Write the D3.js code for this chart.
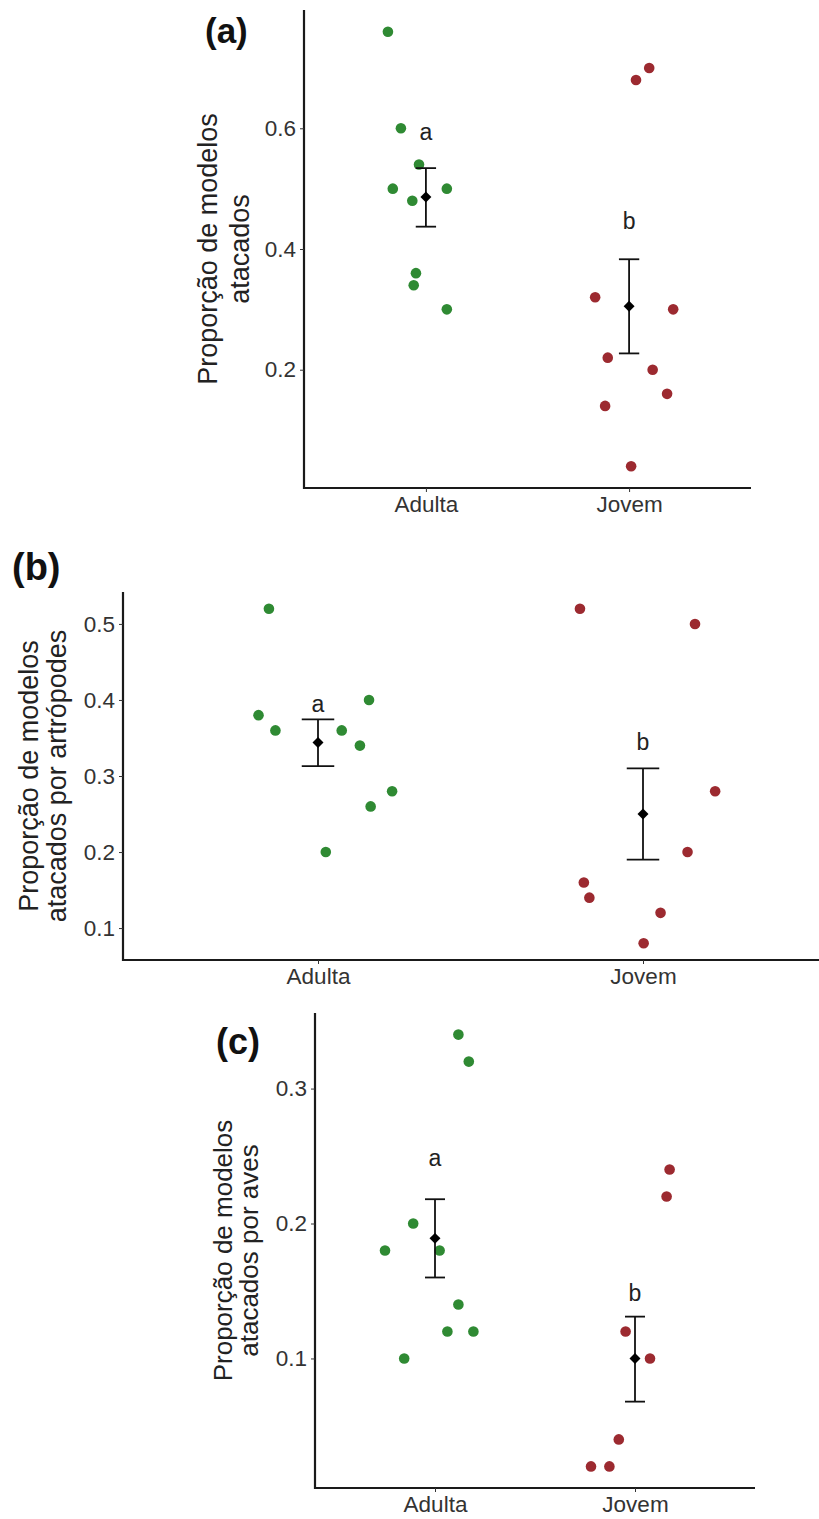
<!DOCTYPE html>
<html>
<head>
<meta charset="utf-8">
<script src="https://cdn.jsdelivr.net/npm/d3@7"></script>
<style>
  html, body { margin: 0; padding: 0; background: #ffffff; }
  svg { display: block; }
  text { font-family: "Liberation Sans", Arial, sans-serif; }
</style>
</head>
<body>
<svg id="chart" width="819" height="1519"></svg>
<script>
// ---------------- DATA ----------------
const categories = ["Adulta", "Jovem"];

// Panel (a): Proporção de modelos atacados
const aAdultaValues = [0.76, 0.60, 0.54, 0.50, 0.50, 0.48, 0.36, 0.34, 0.30];
const aAdultaJitter = [-0.187, -0.123, -0.034, -0.163, 0.103, -0.067, -0.049, -0.060, 0.103];
const aJovemValues  = [0.70, 0.68, 0.32, 0.30, 0.22, 0.20, 0.16, 0.14, 0.04];
const aJovemJitter  = [0.099, 0.034, -0.167, 0.217, -0.105, 0.116, 0.187, -0.118, 0.010];
const aMeans  = [0.486, 0.305];
const aLower  = [0.437, 0.227];
const aUpper  = [0.534, 0.383];
const aLetters = ["a", "b"];
const aLetterAt = [0.595, 0.447];
const aTicks = [0.2, 0.4, 0.6];

// Panel (b): Proporção de modelos atacados por artrópodes
const bAdultaValues = [0.52, 0.38, 0.36, 0.40, 0.36, 0.34, 0.28, 0.26, 0.20];
const bAdultaJitter = [-0.151, -0.183, -0.131, 0.157, 0.073, 0.129, 0.228, 0.162, 0.024];
const bJovemValues  = [0.52, 0.50, 0.28, 0.20, 0.16, 0.14, 0.12, 0.08];
const bJovemJitter  = [-0.194, 0.160, 0.222, 0.137, -0.182, -0.165, 0.054, 0.002];
const bMeans  = [0.344, 0.250];
const bLower  = [0.313, 0.190];
const bUpper  = [0.3745, 0.310];
const bLetters = ["a", "b"];
const bLetterAt = [0.395, 0.345];
const bTicks = [0.1, 0.2, 0.3, 0.4, 0.5];

// Panel (c): Proporção de modelos atacados por aves
const cAdultaValues = [0.34, 0.32, 0.20, 0.18, 0.18, 0.14, 0.12, 0.12, 0.10];
const cAdultaJitter = [0.117, 0.169, -0.109, -0.250, 0.023, 0.117, 0.062, 0.192, -0.154];
const cJovemValues  = [0.24, 0.22, 0.12, 0.10, 0.04, 0.02, 0.02];
const cJovemJitter  = [0.173, 0.158, -0.047, 0.075, -0.081, -0.220, -0.128];
const cMeans  = [0.189, 0.100];
const cLower  = [0.160, 0.068];
const cUpper  = [0.218, 0.131];
const cLetters = ["a", "b"];
const cLetterAt = [0.249, 0.149];
const cTicks = [0.1, 0.2, 0.3];

// ---------------- STYLE / LAYOUT ----------------
const colors = ["#2f8a33", "#9c2a30"];
const svg = d3.select("#chart");

const panels = [
  {
    tag: "(a)", tagX: 205, tagY: 43, tagSize: 35,
    left: 304, right: 751, top: 10, bottom: 488,
    title: ["Proporção de modelos", "atacados"], titleX: [217, 249], titleSize: 27,
    groups: [[aAdultaValues, aAdultaJitter], [aJovemValues, aJovemJitter]],
    means: aMeans, lower: aLower, upper: aUpper, letters: aLetters, letterAt: aLetterAt,
    ticks: aTicks
  },
  {
    tag: "(b)", tagX: 12, tagY: 580, tagSize: 38,
    left: 123, right: 838, top: 592, bottom: 960,
    title: ["Proporção de modelos", "atacados por artrópodes"], titleX: [38, 66], titleSize: 27,
    groups: [[bAdultaValues, bAdultaJitter], [bJovemValues, bJovemJitter]],
    means: bMeans, lower: bLower, upper: bUpper, letters: bLetters, letterAt: bLetterAt,
    ticks: bTicks
  },
  {
    tag: "(c)", tagX: 216, tagY: 1054, tagSize: 36,
    left: 315, right: 755, top: 1013, bottom: 1488,
    title: ["Proporção de modelos", "atacados por aves"], titleX: [232, 258], titleSize: 26,
    groups: [[cAdultaValues, cAdultaJitter], [cJovemValues, cJovemJitter]],
    means: cMeans, lower: cLower, upper: cUpper, letters: cLetters, letterAt: cLetterAt,
    ticks: cTicks
  }
];

panels.forEach(p => {
  const g = svg.append("g");

  const all = p.groups.flatMap(gr => gr[0]);
  const [mn, mx] = d3.extent(all);
  const pad = (mx - mn) * 0.05;
  const y = d3.scaleLinear().domain([mn - pad, mx + pad]).range([p.bottom, p.top]);
  const x = d3.scaleLinear().domain([0.4, 2.6]).range([p.left, p.right]);

  // points
  p.groups.forEach((gr, gi) => {
    const vals = gr[0], jit = gr[1];
    g.selectAll(null)
      .data(vals.map((v, i) => ({ v, j: jit[i] })))
      .enter().append("circle")
      .attr("cx", d => x(gi + 1 + d.j))
      .attr("cy", d => y(d.v))
      .attr("r", 5.3)
      .attr("fill", colors[gi]);
  });

  // error bars, means, letters
  categories.forEach((c, i) => {
    const cx = x(i + 1);
    const capHalf = x(i + 1 + 0.05) - cx;
    g.append("line").attr("x1", cx).attr("x2", cx)
      .attr("y1", y(p.lower[i])).attr("y2", y(p.upper[i]))
      .attr("stroke", "#111").attr("stroke-width", 1.8);
    [p.lower[i], p.upper[i]].forEach(v => {
      g.append("line").attr("x1", cx - capHalf).attr("x2", cx + capHalf)
        .attr("y1", y(v)).attr("y2", y(v))
        .attr("stroke", "#111").attr("stroke-width", 1.8);
    });
    g.append("path")
      .attr("d", d3.symbol().type(d3.symbolSquare).size(60)())
      .attr("transform", `translate(${cx},${y(p.means[i])}) rotate(45)`)
      .attr("fill", "#000");
    g.append("text")
      .attr("x", cx).attr("y", y(p.letterAt[i]))
      .attr("dy", "0.36em")
      .attr("text-anchor", "middle")
      .attr("font-size", 23)
      .attr("fill", "#222")
      .text(p.letters[i]);
  });

  // axes
  const yAxis = d3.axisLeft(y).tickValues(p.ticks).tickFormat(d3.format(".1f"))
    .tickSize(4).tickSizeOuter(0).tickPadding(4);
  const ya = g.append("g").attr("transform", `translate(${p.left},0)`).call(yAxis);
  const xAxis = d3.axisBottom(x).tickValues([1, 2]).tickFormat(d => categories[d - 1])
    .tickSize(4).tickSizeOuter(0).tickPadding(4);
  const xa = g.append("g").attr("transform", `translate(0,${p.bottom})`).call(xAxis);
  [ya, xa].forEach(a => {
    a.select(".domain").attr("stroke", "#1a1a1a").attr("stroke-width", 2.2);
    a.selectAll(".tick line").attr("stroke", "#333").attr("stroke-width", 1);
    a.selectAll(".tick text").attr("font-size", 22.5).attr("fill", "#333")
      .attr("font-family", "'Liberation Sans', Arial, sans-serif");
  });
  ya.select(".domain").attr("d", `M0,${p.top}V${p.bottom + 1}`);
  xa.select(".domain").attr("d", `M${p.left - 1},0H${p.right}`);

  // axis title (two lines)
  const cy = (p.top + p.bottom) / 2;
  p.title.forEach((t, i) => {
    g.append("text")
      .attr("transform", `translate(${p.titleX[i]},${cy}) rotate(-90)`)
      .attr("text-anchor", "middle")
      .attr("font-size", p.titleSize)
      .attr("fill", "#222")
      .text(t);
  });

  // panel tag
  g.append("text")
    .attr("x", p.tagX).attr("y", p.tagY)
    .attr("font-size", p.tagSize)
    .attr("font-weight", "bold")
    .attr("fill", "#111")
    .text(p.tag);
});
</script>
</body>
</html>
